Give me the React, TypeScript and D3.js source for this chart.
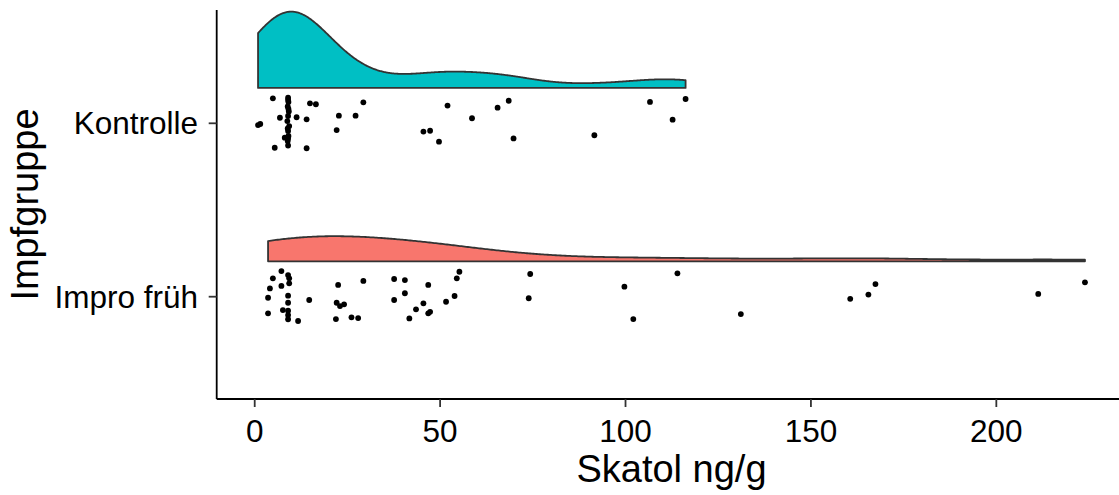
import React from 'react';
import * as d3 from 'd3';

const categories = ['Kontrolle', 'Impro früh'];
const categoryPos = [2, 1];
const fillColors = ['#00BFC4', '#F8766D'];
// kernel bandwidths (ng/g) and slab heights (category units)
const bandwidths = [10, 20];
const slabHeights = [0.44, 0.145];

const kontrolleValues = [
  4.9, 9.0, 9.1, 8.9, 9.2, 9.0, 8.8, 9.3, 9.0, 9.1, 8.9, 9.0, 9.0, 9.1, 8.9, 9.0,
  14.9, 16.5, 0.9, 1.5, 6.8, 11.3, 14.0, 8.1, 5.4, 14.0,
  29.3, 22.7, 27.2, 22.1, 52.0, 58.6, 45.5, 47.3, 49.7,
  65.5, 68.5, 69.8, 91.6, 106.6, 116.2, 112.7,
];
const kontrolleJitter = [
  0.144, 0.148, 0.123, 0.097, 0.068, 0.042, 0.013, -0.016, -0.044, -0.073, -0.102, -0.128, 0.135, 0.083, -0.03, -0.088,
  0.115, 0.11, -0.01, -0.004, 0.032, 0.035, 0.023, -0.083, -0.141, -0.144,
  0.121, 0.044, 0.044, -0.039, 0.102, 0.029, -0.048, -0.043, -0.106,
  0.09, 0.13, -0.087, -0.069, 0.123, 0.14, 0.021,
];

const improValues = [
  7.2, 4.9, 9.0, 9.3, 9.3, 7.2, 4.1, 3.6, 9.0, 9.0, 7.6, 9.0, 9.0, 9.0, 3.6, 11.7,
  14.7, 22.5, 29.3, 22.1, 23.0, 24.1, 21.9, 26.1, 27.9,
  37.6, 40.5, 46.8, 40.5, 37.6, 45.5, 43.5, 46.8, 47.3, 41.7,
  55.2, 54.5, 53.9, 51.6, 74.3, 73.9, 99.7, 102.1, 114.0, 131.1,
  160.6, 165.5, 167.4, 211.3, 223.9,
];
const improJitter = [
  0.148, 0.106, 0.125, 0.106, 0.077, 0.062, 0.048, -0.006, 0.006, -0.035, -0.077, -0.081, -0.106, -0.13, -0.096, -0.14,
  -0.019, 0.068, 0.091, -0.035, -0.054, -0.044, -0.129, -0.119, -0.123,
  0.102, 0.096, 0.068, 0.02, -0.019, -0.038, -0.073, -0.096, -0.087, -0.125,
  0.144, 0.106, 0.004, -0.029, 0.131, -0.009, 0.058, -0.129, 0.135, -0.1,
  -0.012, 0.012, 0.073, 0.016, 0.083,
];

const xTicks = [0, 50, 100, 150, 200];
const xTitle = 'Skatol ng/g';
const yTitle = 'Impfgruppe';

const groups = [
  { name: categories[0], pos: categoryPos[0], fill: fillColors[0], values: kontrolleValues, jitter: kontrolleJitter, bw: bandwidths[0], h: slabHeights[0] },
  { name: categories[1], pos: categoryPos[1], fill: fillColors[1], values: improValues, jitter: improJitter, bw: bandwidths[1], h: slabHeights[1] },
];

function kde(v: number[], bw: number, n = 512) {
  const lo = d3.min(v) as number;
  const hi = d3.max(v) as number;
  const out: [number, number][] = [];
  for (let i = 0; i < n; i++) {
    const x = lo + ((hi - lo) * i) / (n - 1);
    let sum = 0;
    for (const xi of v) {
      const z = (x - xi) / bw;
      sum += Math.exp(-0.5 * z * z);
    }
    out.push([x, sum / (v.length * bw * Math.sqrt(2 * Math.PI))]);
  }
  return out;
}

export default function App() {
  const W = 1119;
  const H = 495;
  const panelLeft = 216.7;
  const panelRight = 1126.3;
  const panelTop = 10;
  const panelBottom = 399;

  const all = [...kontrolleValues, ...improValues];
  const mn = d3.min(all) as number;
  const mx = d3.max(all) as number;
  const pad = 0.05 * (mx - mn);
  const x = d3.scaleLinear().domain([mn - pad, mx + pad]).range([panelLeft, panelRight]);
  const y = d3.scaleLinear().domain([1, 2]).range([296.7, 123.3]);

  const nudge = 0.204;
  const font = '"Liberation Sans", Arial, sans-serif';
  const tickSize = 31.5;
  const titleSize = 38;

  return (
    <svg width={W} height={H} style={{ position: 'absolute', left: 0, top: 0, background: '#fff' }}>
      <rect x={0} y={0} width={W} height={H} fill="#fff" />
      {groups.map((g, gi) => {
        const dens = kde(g.values, g.bw);
        const maxD = d3.max(dens, (d) => d[1]) as number;
        const base = g.pos + nudge;
        const area = d3
          .area<[number, number]>()
          .x((d) => x(d[0]))
          .y0(() => y(base))
          .y1((d) => y(base + (d[1] / maxD) * g.h));
        return (
          <path key={'v' + gi} d={area(dens) as string} fill={g.fill} stroke="#333333" strokeWidth={1.8} strokeLinejoin="round" />
        );
      })}
      {groups.map((g, gi) =>
        g.values.map((v, i) => (
          <circle key={'p' + gi + '-' + i} cx={x(v)} cy={y(g.pos + g.jitter[i])} r={2.9} fill="#000" />
        ))
      )}
      <line x1={panelLeft} x2={panelLeft} y1={panelTop} y2={panelBottom} stroke="#000" strokeWidth={1.8} />
      <line x1={panelLeft} x2={W + 20} y1={panelBottom} y2={panelBottom} stroke="#000" strokeWidth={1.8} />
      {xTicks.map((t) => (
        <g key={'xt' + t}>
          <line x1={x(t)} x2={x(t)} y1={panelBottom} y2={panelBottom + 8} stroke="#333" strokeWidth={1.8} />
          <text x={x(t)} y={442} textAnchor="middle" fontFamily={font} fontSize={tickSize} fill="#000">
            {t}
          </text>
        </g>
      ))}
      {groups.map((g) => (
        <g key={'yt' + g.name}>
          <line x1={panelLeft - 8} x2={panelLeft} y1={y(g.pos)} y2={y(g.pos)} stroke="#333" strokeWidth={1.8} />
          <text x={198} y={y(g.pos)} dy="0.35em" textAnchor="end" fontFamily={font} fontSize={tickSize} fill="#000">
            {g.name}
          </text>
        </g>
      ))}
      <text x={(panelLeft + panelRight) / 2} y={482} textAnchor="middle" fontFamily={font} fontSize={titleSize} fill="#000">
        {xTitle}
      </text>
      <text
        transform={`translate(38, ${(panelTop + panelBottom) / 2}) rotate(-90)`}
        textAnchor="middle"
        fontFamily={font}
        fontSize={titleSize}
        fill="#000"
      >
        {yTitle}
      </text>
    </svg>
  );
}
